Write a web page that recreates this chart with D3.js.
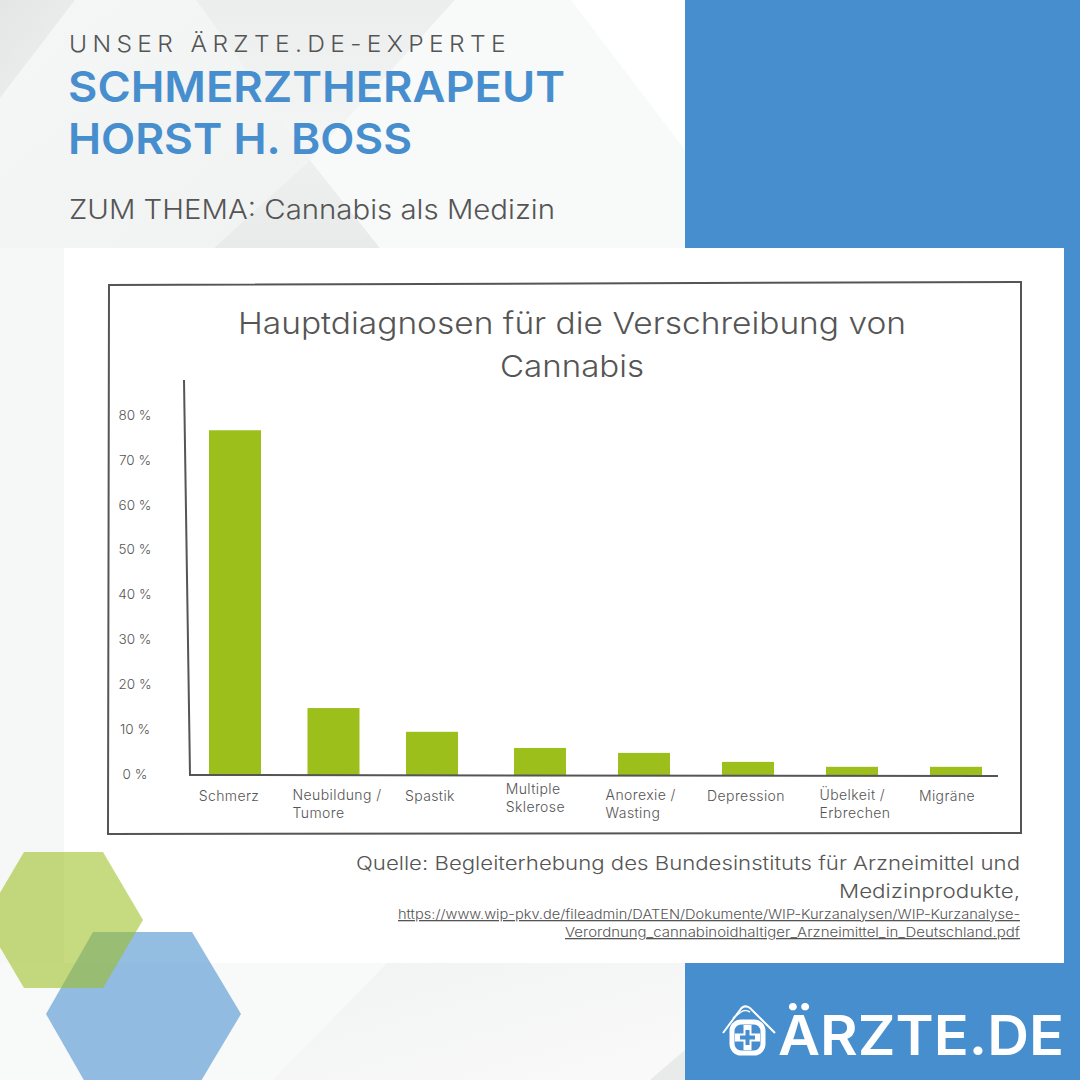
<!DOCTYPE html>
<html><head><meta charset="utf-8">
<script src="https://cdn.jsdelivr.net/npm/d3@7"></script>
<style>
html,body{margin:0;padding:0;background:#fff}
svg{display:block}
text{font-family:Inter,"Open Sans",sans-serif}
</style></head><body>
<svg id="c" width="1080" height="1080"></svg>
<script>
const categories = [["Schmerz"],["Neubildung /","Tumore"],["Spastik"],["Multiple","Sklerose"],["Anorexie /","Wasting"],["Depression"],["Übelkeit /","Erbrechen"],["Migräne"]];
const values = [76.6,14.7,9.4,5.8,4.7,2.7,1.6,1.6];
const yTicks = [0,10,20,30,40,50,60,70,80];
const titleLines = ["Hauptdiagnosen für die Verschreibung von","Cannabis"];

const svg = d3.select("#c");
const defs = svg.append("defs");
function grad(id,x1,y1,x2,y2,stops){
  const g=defs.append("linearGradient").attr("id",id).attr("x1",x1).attr("y1",y1).attr("x2",x2).attr("y2",y2);
  stops.forEach(s=>g.append("stop").attr("offset",s[0]).attr("stop-color",s[1]));
}
grad("g0",0,0,1,1,[[0,"#e4e6e6"],[1,"#eff0f0"]]);
grad("g1",0.5,0,0.5,1,[[0,"#eceeee"],[1,"#f5f6f6"]]);
grad("g2",0,0,1,1,[[0,"#f5f6f6"],[1,"#f1f2f2"]]);
grad("g3",0.5,0,0.5,1,[[0,"#eef0f0"],[1,"#e9ebeb"]]);
grad("g4",0,0,1,1,[[0,"#f1f2f2"],[1,"#fafafa"]]);

// background facets
svg.append("rect").attr("width",1080).attr("height",1080).attr("fill","#f8f9f9");
const facets=[
 ["75,0 196,0 310,160 214,248 0,248 0,98","url(#g2)"],
 ["196,0 455,0 310,160","url(#g1)"],
 ["310,160 380,248 214,248","url(#g3)"],
 ["455,0 571,0 685,150 685,248 380,248 310,160","#f8f9f9"],
 ["571,0 685,0 685,150","#ffffff"],
 ["0,0 75,0 0,98","url(#g0)"],
 ["0,248 64,248 64,963 0,963","#f6f7f7"],
 ["0,963 387,963 273,1080 0,1080","#f8f9f9"],
 ["387,963 685,963 685,1050 650,1080 273,1080","url(#g4)"],
 ["685,1050 685,1080 650,1080","#e9eaea"]
];
svg.append("g").selectAll("polygon").data(facets).join("polygon").attr("points",d=>d[0]).attr("fill",d=>d[1]);

// blue blocks
const blue="#468ecd";
svg.append("rect").attr("x",685).attr("y",0).attr("width",395).attr("height",1080).attr("fill",blue);
// white panel
svg.append("rect").attr("x",64).attr("y",248).attr("width",1000).attr("height",715).attr("fill","#fff");

// hexagons
svg.append("polygon").attr("points","93,932 192,932 241,1014 192,1096 93,1096 46,1014").attr("fill","#468ecd").attr("opacity",0.58);
svg.append("polygon").attr("points","24,852 103,852 143,920 103,988 24,988 -16,920").attr("fill","#9dbf22").attr("opacity",0.58);

// header
const dark="#555555";
function fit(t,w){t.attr("textLength",w).attr("lengthAdjust","spacingAndGlyphs");return t;}
fit(svg.append("text").attr("x",69).attr("y",52).attr("font-size",23).attr("font-weight",300).attr("fill",dark).text("UNSER ÄRZTE.DE-EXPERTE").style("letter-spacing","5px"),442);
fit(svg.append("text").attr("x",68).attr("y",102).attr("font-size",43).attr("font-weight",600).attr("fill",blue).text("SCHMERZTHERAPEUT"),497);
fit(svg.append("text").attr("x",68).attr("y",154).attr("font-size",43).attr("font-weight",600).attr("fill",blue).text("HORST H. BOSS"),344);
fit(svg.append("text").attr("x",69).attr("y",219).attr("font-size",27).attr("font-weight",300).attr("fill",dark).text("ZUM THEMA: Cannabis als Medizin"),486);

// sketchy frame
const line=d3.line();
svg.append("path").attr("d",line([[109,285],[1021,282],[1021,833],[108,834]])+"Z").attr("fill","none").attr("stroke","#555").attr("stroke-width",2);

// chart title
svg.append("g").selectAll("text").data(titleLines).join("text")
  .attr("x",572).attr("y",(d,i)=>334+i*43).attr("text-anchor","middle")
  .attr("font-size",30).attr("font-weight",300).attr("fill",dark).text(d=>d)
  .each(function(d,i){fit(d3.select(this),i?144:668);});

// scales (the hand-drawn axis is not evenly spaced, hence piecewise)
const y=d3.scaleLinear().domain([0,80]).range([774,415]);
const x=d3.scaleLinear().domain([0,2,3,7]).range([235,432,540,956]);
const xLabel=d3.scaleLinear().domain([0,1,2,5,6,7]).range([229,337,430,746,855,947]);
const barW=52;

// bars
svg.append("g").selectAll("rect").data(values).join("rect")
  .attr("x",(d,i)=>x(i)-barW/2).attr("width",barW)
  .attr("y",d=>y(d)).attr("height",d=>y(0)-y(d)+1).attr("fill","#9cbf1c");

// axes lines
svg.append("path").attr("d",line([[184,380],[190,775],[998,776]])).attr("fill","none").attr("stroke","#555").attr("stroke-width",2);

// y axis via d3
const ya=svg.append("g").attr("transform","translate(135,0)")
  .call(d3.axisLeft(y).tickValues(yTicks).tickSize(0).tickPadding(0).tickFormat(d=>d+" %"));
ya.select(".domain").remove();
ya.selectAll("text").attr("text-anchor","middle").attr("x",0).attr("font-size",13.5).attr("font-weight",300).attr("fill",dark).style("font-family","Inter");

// x labels: left-aligned block, centred on the label scale
const lab=svg.append("g").selectAll("text").data(categories).join("text")
  .attr("font-size",14).attr("font-weight",300).attr("fill",dark).style("letter-spacing","0.4px")
  .attr("y",(d,i)=>d.length>1?(i===3?794:800):801);
lab.selectAll("tspan").data(d=>d).join("tspan").attr("x",0).attr("dy",(d,i)=>i?18:0).text(d=>d);
lab.attr("transform",function(d,i){return `translate(${xLabel(i)-this.getBBox().width/2},0)`;});

// source
svg.append("g").selectAll("text").data([
  {t:"Quelle: Begleiterhebung des Bundesinstituts für Arzneimittel und",y:870,w:664,s:19},
  {t:"Medizinprodukte,",y:898,w:181,s:19}]).join("text")
  .attr("x",1020).attr("y",d=>d.y).attr("text-anchor","end").attr("font-size",d=>d.s).attr("font-weight",300).attr("fill",dark).text(d=>d.t)
  .each(function(d){fit(d3.select(this),d.w);});
svg.append("g").selectAll("text").data([
  {t:"https://www.wip-pkv.de/fileadmin/DATEN/Dokumente/WIP-Kurzanalysen/WIP-Kurzanalyse-",y:919,w:622},
  {t:"Verordnung_cannabinoidhaltiger_Arzneimittel_in_Deutschland.pdf",y:937,w:455}]).join("text")
  .attr("x",1020).attr("y",d=>d.y).attr("text-anchor","end").attr("font-size",13).attr("font-weight",300).attr("fill",dark).attr("text-decoration","underline").text(d=>d.t)
  .each(function(d){fit(d3.select(this),d.w);});

// logo
fit(svg.append("text").attr("x",778).attr("y",1055).attr("font-size",55).attr("font-weight",600).attr("fill","#fff").text("ÄRZTE.DE"),286);
const logo=svg.append("g").attr("fill","none").attr("stroke","#fff");
logo.append("path").attr("d","M723,1033 L740,1010 Q744,1004 750,1008 L775,1033").attr("stroke-width",2);
logo.append("path").attr("d","M733,1018 L741,1012 Q745,1009 750,1012").attr("stroke-width",1.5);
logo.append("rect").attr("x",732).attr("y",1022).attr("width",31).attr("height",31).attr("rx",9).attr("stroke-width",5);
logo.append("path").attr("d","M747.5,1025 V1050 M735,1037.5 H760").attr("stroke-width",8);
logo.append("path").attr("d","M747.5,1030 V1045 M740,1037.5 H755").attr("stroke",blue).attr("stroke-width",4);
</script>
</body></html>
